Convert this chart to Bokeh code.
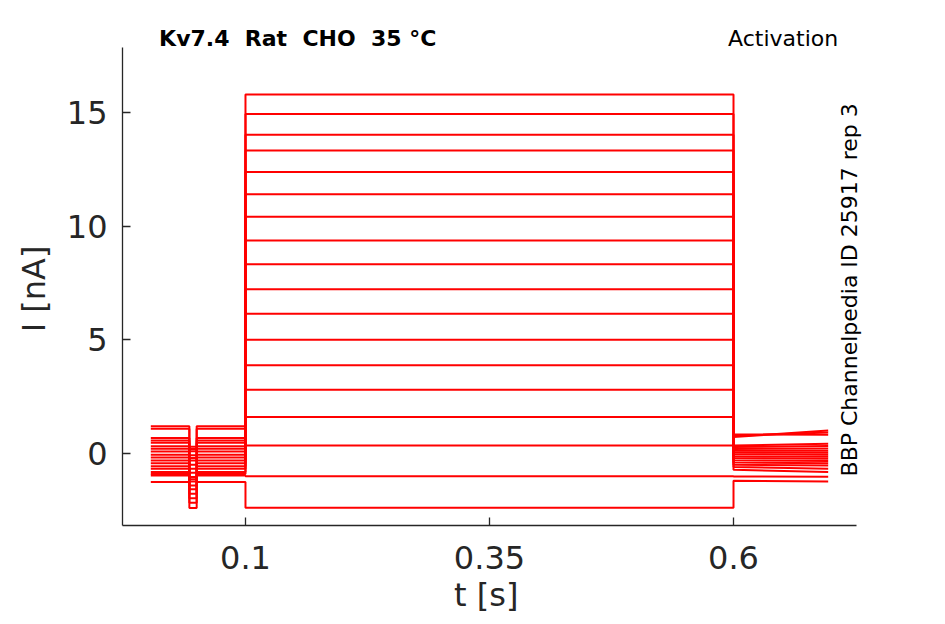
import math
from bokeh.plotting import figure
from bokeh.models import ColumnDataSource, FixedTicker, Label, Range1d
from bokeh.embed import file_html
from bokeh.resources import INLINE

# protocol time points [s]
t_start = 0.003
t_dip_on = 0.0425
t_dip_off = 0.050
t_step_on = 0.1
t_step_off = 0.6
t_end = 0.697

# per-sweep current levels [nA]
baseline_I = [1.20, 1.09, 0.68, 0.57, 0.47, 0.32, 0.21, 0.09, -0.06,
              -0.18, -0.31, -0.43, -0.56, -0.67, -0.82, -0.90, -0.97, -1.26]
dip_I = [0.30, 0.20, 0.10, -0.08, -0.20, -0.31, -0.50, -0.67, -0.85,
         -1.04, -1.14, -1.23, -1.41, -1.58, -1.77, -1.97, -2.17, -2.40]
step_I = [15.79, 14.94, 14.02, 13.33, 12.38, 11.41, 10.41, 9.37, 8.33,
          7.23, 6.15, 5.00, 3.88, 2.80, 1.60, 0.35, -1.00, -2.39]
tail_start_I = [0.72, 0.78, 0.84, 0.35, 0.28, 0.20, 0.12, 0.05, -0.03,
                -0.12, -0.20, -0.30, -0.40, -0.50, -0.60, -0.72, -1.01, -1.20]
tail_end_I = [1.01, 0.92, 0.82, 0.43, 0.33, 0.22, 0.12, 0.03, -0.06,
              -0.15, -0.23, -0.33, -0.43, -0.53, -0.67, -0.82, -1.03, -1.23]

x_ticks = [0.1, 0.35, 0.6]
x_tick_labels = ["0.1", "0.35", "0.6"]
y_ticks = [0, 5, 10, 15]
x_axis_bounds = (-0.026, 0.726)
y_axis_bounds = (-3.17, 17.86)

xs, ys = [], []
for b, d, s, ts, te in zip(baseline_I, dip_I, step_I, tail_start_I, tail_end_I):
    xs.append([t_start, t_dip_on, t_dip_on, t_dip_off, t_dip_off, t_step_on,
               t_step_on, t_step_off, t_step_off, t_end])
    ys.append([b, b, d, d, b, b, s, s, ts, te])
src = ColumnDataSource(data=dict(xs=xs, ys=ys))

FONT = "DejaVu Sans"
AX = "#262626"

p = figure(width=929, height=619, output_backend="svg", toolbar_location=None,
           x_range=Range1d(-0.026, 0.7506), y_range=Range1d(-3.17, 19.27),
           min_border_left=122, min_border_right=49, min_border_top=15,
           min_border_bottom=94)
p.outline_line_color = None
p.grid.visible = False
p.background_fill_color = "white"
p.border_fill_color = "white"

p.multi_line(xs="xs", ys="ys", source=src, line_color="#ff0000", line_width=2)

for ax in (p.xaxis[0], p.yaxis[0]):
    ax.axis_line_color = AX
    ax.axis_line_width = 1.3
    ax.major_tick_line_color = AX
    ax.major_tick_line_width = 1.3
    ax.major_tick_in = 8
    ax.major_tick_out = 0
    ax.minor_tick_line_color = None
    ax.major_label_text_font = FONT
    ax.major_label_text_font_size = "32px"
    ax.major_label_text_color = AX
    ax.axis_label_text_font = FONT
    ax.axis_label_text_font_size = "32px"
    ax.axis_label_text_font_style = "normal"
    ax.axis_label_text_color = AX

p.xaxis.bounds = x_axis_bounds
p.yaxis.bounds = y_axis_bounds
p.xaxis.ticker = FixedTicker(ticks=x_ticks)
p.xaxis.major_label_overrides = {t: l for t, l in zip(x_ticks, x_tick_labels)}
p.yaxis.ticker = FixedTicker(ticks=y_ticks)
# trailing no-break spaces keep the labels centred on the axis lines
p.xaxis.axis_label = "t [s]\u00a0\u00a0\u00a0"
p.yaxis.axis_label = "I [nA]\u00a0\u00a0\u00a0\u2009"
p.xaxis.major_label_standoff = 20
p.yaxis.major_label_standoff = 15
p.xaxis.axis_label_standoff = 4
p.yaxis.axis_label_standoff = 11

p.add_layout(Label(x=0.0115, y=18.24, text="Kv7.4 \u00a0Rat \u00a0CHO \u00a035 °C",
                   text_font=FONT, text_font_size="22px", text_font_style="bold",
                   text_color="black", text_baseline="alphabetic", text_align="left"))
p.add_layout(Label(x=0.7073, y=18.24, text="Activation",
                   text_font=FONT, text_font_size="22px",
                   text_color="black", text_baseline="alphabetic", text_align="right"))
p.add_layout(Label(x=0.7185, y=7.2, text="BBP Channelpedia ID 25917 rep 3",
                   angle=math.pi / 2, text_font=FONT, text_font_size="22px",
                   text_color="black", text_baseline="alphabetic", text_align="center"))

open("out.html", "w").write(file_html(p, INLINE))
